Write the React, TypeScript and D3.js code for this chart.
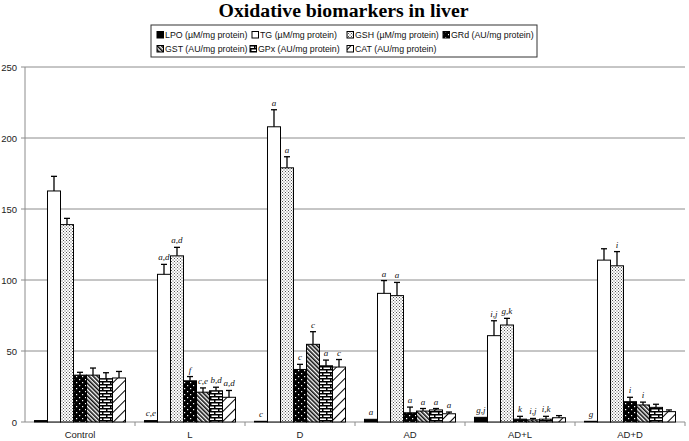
import * as d3 from "d3";

const categories = ["Control", "L", "D", "AD", "AD+L", "AD+D"];
const series = ["LPO", "TG", "GSH", "GRd", "GST", "GPx", "CAT"];
const legendLabels = [
  "LPO (µM/mg protein)",
  "TG (µM/mg protein)",
  "GSH (µM/mg protein)",
  "GRd (AU/mg protein)",
  "GST (AU/mg protein)",
  "GPx (AU/mg protein)",
  "CAT (AU/mg protein)",
];
const yTicks = [0, 50, 100, 150, 200, 250];

// means, one array per marker, in category order
const LPO = [1, 1, 0.5, 1.9, 3.3, 0.5];
const TG = [162.7, 104, 207.9, 90.6, 60.8, 114];
const GSH = [139, 117, 179, 89, 68.3, 110];
const GRd = [33, 29, 37, 6.5, 2, 14.3];
const GST = [33, 21, 54.7, 7.7, 1.5, 12];
const GPx = [30.5, 22, 39.6, 8.5, 2, 10.3];
const CAT = [31, 17.4, 38.7, 5.8, 3, 7.3];

// error bar heights
const LPOerr = [0.3, 0.3, 0.2, 0.4, 0.5, 0.2];
const TGerr = [10.3, 7, 12, 9, 10.5, 8];
const GSHerr = [4.4, 6, 7.8, 9.3, 4.7, 10];
const GRderr = [2, 3, 3.6, 4, 2, 3.1];
const GSTerr = [5, 3, 8.9, 1.8, 1, 2];
const GPxerr = [4.2, 2.5, 4, 1, 2, 2.2];
const CATerr = [4.6, 4.8, 5.3, 1.2, 1.5, 1.2];

// significance letters
const LPOsig = ["", "c,e", "c", "a", "g,j", "g"];
const TGsig = ["", "a,d", "a", "a", "i,j", ""];
const GSHsig = ["", "a,d", "a", "a", "g,k", "i"];
const GRdsig = ["", "f", "c", "a", "k", "i"];
const GSTsig = ["", "c,e", "c", "a", "i,j", "i"];
const GPxsig = ["", "b,d", "a", "a", "i,k", ""];
const CATsig = ["", "a,d", "c", "a", "", ""];

const means = [LPO, TG, GSH, GRd, GST, GPx, CAT];
const errs = [LPOerr, TGerr, GSHerr, GRderr, GSTerr, GPxerr, CATerr];
const sigs = [LPOsig, TGsig, GSHsig, GRdsig, GSTsig, GPxsig, CATsig];

const fills = [
  "#000",
  "#fff",
  "url(#pGSH)",
  "url(#pGRd)",
  "url(#pGST)",
  "url(#pGPx)",
  "url(#pCAT)",
];

export default function App() {
  const width = 689;
  const height = 441;
  const left = 25;
  const right = 685;
  const top = 67;
  const bottom = 422;

  const x0 = d3.scaleBand().domain(categories).range([left, right]);
  const x1 = d3
    .scaleBand()
    .domain(series)
    .range([0, x0.bandwidth()])
    .paddingOuter(0.73);
  const y = d3.scaleLinear().domain([0, 250]).range([bottom, top]);

  const legendPos = [
    [157, 38],
    [252, 38],
    [347, 38],
    [443, 38],
    [157, 52],
    [250, 52],
    [347, 52],
  ];

  const sans = "'Liberation Sans', Arial, sans-serif";
  const serif = "'Liberation Serif', 'Times New Roman', serif";

  return (
    <svg
      width={width}
      height={height}
      style={{ position: "absolute", left: 0, top: 0, background: "#fff" }}
    >
      <defs>
        <pattern id="pGSH" width="3" height="3" patternUnits="userSpaceOnUse">
          <rect width="3" height="3" fill="#fff" />
          <rect x="0" y="0" width="1" height="1" fill="#555" />
          <rect x="1.5" y="1.5" width="1" height="1" fill="#555" />
        </pattern>
        <pattern id="pGRd" width="6" height="6" patternUnits="userSpaceOnUse">
          <rect width="6" height="6" fill="#000" />
          <rect x="1" y="1" width="1.2" height="1.2" fill="#fff" />
          <rect x="4" y="4" width="1.2" height="1.2" fill="#fff" />
        </pattern>
        <pattern
          id="pGST"
          width="3"
          height="3"
          patternUnits="userSpaceOnUse"
          patternTransform="rotate(-45)"
        >
          <rect width="3" height="3" fill="#fff" />
          <rect x="0" y="0" width="1.6" height="3" fill="#111" />
        </pattern>
        <pattern id="pGPx" width="8" height="6" patternUnits="userSpaceOnUse">
          <rect width="8" height="6" fill="#fff" />
          <rect x="0" y="0" width="8" height="1.5" fill="#000" />
          <rect x="0" y="3" width="8" height="1.5" fill="#000" />
          <rect x="2" y="0" width="1.5" height="3" fill="#000" />
          <rect x="6" y="3" width="1.5" height="3" fill="#000" />
        </pattern>
        <pattern
          id="pCAT"
          width="7"
          height="7"
          patternUnits="userSpaceOnUse"
          patternTransform="rotate(45)"
        >
          <rect width="7" height="7" fill="#fff" />
          <rect x="0" y="0" width="1" height="7" fill="#000" />
        </pattern>
      </defs>

      <text
        x={343.5}
        y={17}
        textAnchor="middle"
        fontFamily={serif}
        fontWeight="bold"
        fontSize={19.8}
      >
        Oxidative biomarkers in liver
      </text>

      {/* gridlines */}
      {yTicks.slice(1).map((t) => (
        <line
          key={t}
          x1={left}
          x2={right}
          y1={y(t)}
          y2={y(t)}
          stroke="#8c8c8c"
          strokeWidth={1}
        />
      ))}
      <line x1={left} x2={left} y1={top} y2={bottom} stroke="#8c8c8c" />
      <line x1={left} x2={right} y1={bottom} y2={bottom} stroke="#8c8c8c" />
      {yTicks.map((t) => (
        <g key={t}>
          <line x1={left - 4} x2={left} y1={y(t)} y2={y(t)} stroke="#8c8c8c" />
          <text
            x={17}
            y={y(t) + 3.5}
            textAnchor="end"
            fontFamily={sans}
            fontSize={9.5}
            fill="#222"
          >
            {t}
          </text>
        </g>
      ))}
      {categories.map((c) => (
        <g key={c}>
          <line
            x1={x0(c)! + x0.bandwidth()}
            x2={x0(c)! + x0.bandwidth()}
            y1={bottom}
            y2={bottom + 4}
            stroke="#8c8c8c"
          />
          <text
            x={x0(c)! + x0.bandwidth() / 2}
            y={438}
            textAnchor="middle"
            fontFamily={sans}
            fontSize={9.5}
            fill="#222"
          >
            {c}
          </text>
        </g>
      ))}

      {/* bars */}
      {series.map((s, si) => (
        <g key={s}>
          {categories.map((c, ci) => {
            const bx = x0(c)! + x1(s)!;
            const bw = x1.bandwidth();
            const v = means[si][ci];
            const e = errs[si][ci];
            const cx = bx + bw / 2;
            const yTop = y(v + e);
            return (
              <g key={c}>
                <rect
                  x={bx}
                  y={y(v)}
                  width={bw}
                  height={bottom - y(v)}
                  fill={fills[si]}
                  stroke="#000"
                  strokeWidth={1}
                />
                {e > 0.6 && (
                  <g stroke="#000" strokeWidth={1.3}>
                    <line x1={cx} x2={cx} y1={y(v)} y2={yTop} />
                    <line x1={cx - 3} x2={cx + 3} y1={yTop} y2={yTop} />
                  </g>
                )}
                {sigs[si][ci] && (
                  <text
                    x={cx}
                    y={yTop - 4}
                    textAnchor="middle"
                    fontFamily={serif}
                    fontStyle="italic"
                    fontSize={9}
                    fill="#111"
                  >
                    {sigs[si][ci]}
                  </text>
                )}
              </g>
            );
          })}
        </g>
      ))}

      {/* legend */}
      <rect
        x={151}
        y={25}
        width={386}
        height={32}
        fill="#fff"
        stroke="#333"
        strokeWidth={1}
      />
      {series.map((s, i) => (
        <g key={s}>
          <rect
            x={legendPos[i][0]}
            y={legendPos[i][1] - 6.5}
            width={6.5}
            height={6.5}
            fill={fills[i]}
            stroke="#000"
            strokeWidth={1}
          />
          <text
            x={legendPos[i][0] + 8}
            y={legendPos[i][1]}
            fontFamily={sans}
            fontSize={8.8}
            fill="#111"
          >
            {legendLabels[i]}
          </text>
        </g>
      ))}
    </svg>
  );
}
